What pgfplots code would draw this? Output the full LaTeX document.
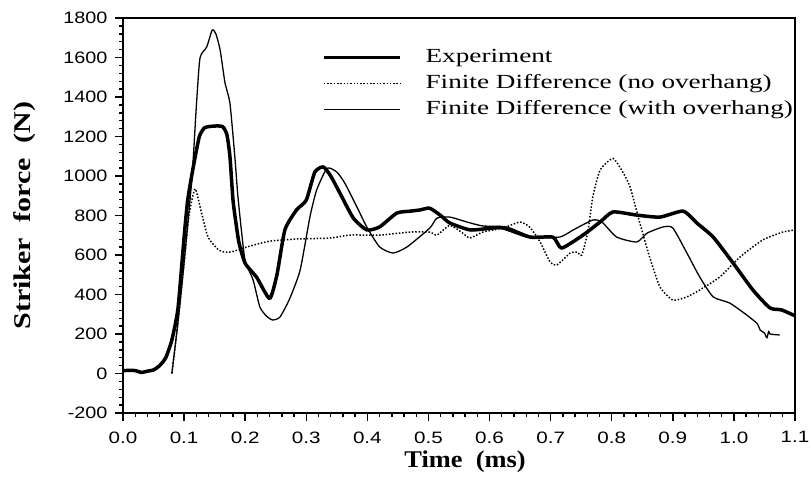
\documentclass[border=0pt]{standalone}
\usepackage{pgfplots}
\pgfplotsset{compat=1.18}
\usepackage{fontspec}
\setmainfont{Liberation Serif}
\newfontfamily\helv{Liberation Sans}
\begin{document}
\begin{tikzpicture}
\begin{axis}[
  scale only axis, width=672pt, height=395pt,
  xmin=0, xmax=1.1, ymin=-200, ymax=1800,
  xtick={0,0.1,0.2,0.3,0.4,0.5,0.6,0.7,0.8,0.9,1.0,1.1},
  ytick={-200,0,200,400,600,800,1000,1200,1400,1600,1800},
  minor x tick num=4, minor y tick num=4,
  tick align=outside, xtick pos=left, ytick pos=left,
  major tick length=8pt, minor tick length=4pt,
  tick style={line width=1.4pt, black},
  axis line style={line width=1.6pt},
  /pgf/number format/assume math mode=true,
  xticklabel={\scalebox{1.25}[1]{\pgfmathprintnumber[fixed,fixed zerofill,precision=1]{\tick}}},
  yticklabel={\scalebox{1.2}[1]{\pgfmathprintnumber[fixed,precision=0,1000 sep={}]{\tick}}},
  tick label style={font=\helv\fontsize{16.5}{18}\selectfont},
  xticklabel style={yshift=-7pt},
  yticklabel style={xshift=-4pt},
  clip mode=individual,
  legend style={draw=none, fill=none, at={(rel axis cs:0.296,0.924)}, anchor=north west,
    inner sep=0pt, row sep=7pt, font=\fontsize{20}{24}\selectfont,
    nodes={inner xsep=0pt, inner ysep=0pt, text height=14pt, text depth=5pt},
    /tikz/every odd column/.style={column sep=24pt}, cells={anchor=west}},
  legend image code/.code={\draw[#1] (0pt,0pt) -- (76pt,0pt);},
]
\addplot[black, line width=3.5pt, line join=round, smooth, tension=0.35] table {
0 15
0.02 15
0.03 5
0.04 12
0.05 18
0.06 40
0.07 80
0.08 170
0.09 330
0.1 690
0.106 880
0.115 1045
0.125 1200
0.134 1245
0.15 1253
0.163 1250
0.17 1210
0.175 1100
0.18 880
0.185 760
0.19 660
0.2 558
0.219 486
0.24 380
0.252 500
0.265 727
0.284 828
0.30 878
0.314 1020
0.328 1046
0.34 1000
0.355 914
0.377 787
0.399 727
0.42 742
0.448 812
0.47 822
0.486 828
0.502 837
0.52 800
0.535 762
0.568 727
0.6 735
0.622 737
0.666 691
0.704 690
0.718 635
0.753 701
0.781 767
0.802 818
0.841 802
0.879 792
0.917 822
0.94 760
0.966 691
0.999 558
1.031 423
1.059 332
1.078 322
1.1 292
};
\addlegendentry{\scalebox{1.36}[1]{Experiment}}
\addplot[black, line width=1.5pt, dash pattern=on 1.5pt off 1.8pt, smooth, tension=0.35] table {
0.08 0
0.09 260
0.1 560
0.108 800
0.118 935
0.128 820
0.137 710
0.142 676
0.155 630
0.164 616
0.178 616
0.203 641
0.24 670
0.284 681
0.339 686
0.372 701
0.42 701
0.47 716
0.502 716
0.514 701
0.535 750
0.556 711
0.568 686
0.589 716
0.622 737
0.65 767
0.666 740
0.682 670
0.699 565
0.71 549
0.732 610
0.743 615
0.751 600
0.761 720
0.769 894
0.781 1030
0.802 1089
0.818 1020
0.83 945
0.846 762
0.862 590
0.879 438
0.9 372
0.923 388
0.944 423
0.977 489
1.01 590
1.047 676
1.08 716
1.1 727
};
\addlegendentry{\scalebox{1.36}[1]{Finite Difference (no overhang)}}
\addplot[black, line width=1.3pt, line join=round, smooth, tension=0.35] table {
0.08 0
0.09 260
0.1 560
0.113 996
0.12 1350
0.126 1597
0.137 1653
0.146 1739
0.152 1720
0.159 1638
0.167 1471
0.175 1370
0.183 1100
0.188 900
0.194 720
0.2 570
0.213 473
0.224 337
0.235 290
0.245 271
0.257 286
0.273 380
0.29 524
0.306 793
0.317 929
0.334 1039
0.35 1020
0.363 964
0.383 843
0.399 742
0.42 641
0.442 610
0.465 641
0.502 736
0.514 787
0.535 792
0.563 767
0.589 747
0.628 742
0.671 691
0.715 691
0.737 727
0.769 777
0.784 767
0.808 691
0.841 666
0.858 711
0.884 742
0.9 737
0.923 610
0.944 489
0.966 388
0.993 357
1.021 296
1.038 253
1.043 220
1.05 205
1.054 180
1.057 215
1.059 200
1.075 195
};
\addlegendentry{\scalebox{1.36}[1]{Finite Difference (with overhang)}}
\coordinate (O) at (rel axis cs:0,0);
\node[xshift=-98pt, rotate=90, font=\bfseries\fontsize{24}{28}\selectfont] at (rel axis cs:0,0.5) {\scalebox{1.25}[1]{Striker\ \ force\ \ (N)}};
\node[yshift=-49pt, font=\bfseries\fontsize{24}{28}\selectfont] at (rel axis cs:0.509,0) {\scalebox{1.1}[1]{Time\ \ (ms)}};
\end{axis}
\pgfresetboundingbox
\path[use as bounding box] ([shift={(-123pt,-78pt)}]O) rectangle ++(810pt,491pt);
\end{tikzpicture}
\end{document}
